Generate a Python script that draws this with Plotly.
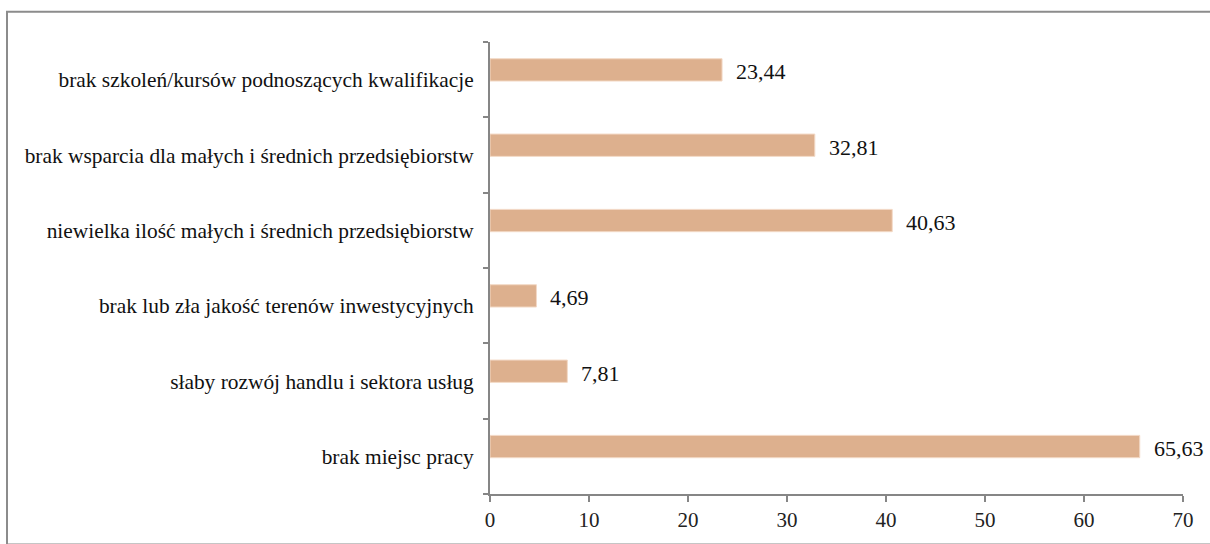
import plotly.graph_objects as go

categories = [
    "brak miejsc pracy",
    "słaby rozwój handlu i sektora usług",
    "brak lub zła jakość terenów inwestycyjnych",
    "niewielka ilość małych i średnich przedsiębiorstw",
    "brak wsparcia dla małych i średnich przedsiębiorstw",
    "brak szkoleń/kursów podnoszących kwalifikacje",
]
values = [65.63, 7.81, 4.69, 40.63, 32.81, 23.44]
x_ticks = [0, 10, 20, 30, 40, 50, 60, 70]

FONT = "Liberation Serif"
AXIS = "#868686"
BAR = "#DDB08E"

W, H = 1210, 544
L, R, T, B = 490, 27, 42, 46
pw, ph = W - L - R, H - T - B

bar_w = 0.296
bar_off = -0.018

fig = go.Figure()
fig.add_trace(go.Bar(
    x=values, y=categories, orientation="h",
    marker=dict(color=BAR, line=dict(color="#F3D9C6", width=1)),
    width=bar_w, offset=bar_off,
    hoverinfo="skip",
))

for v, c in zip(values, categories):
    fig.add_annotation(
        x=v, y=c, xref="x", yref="y",
        text=f"{v:.2f}".replace(".", ","),
        showarrow=False, xanchor="left", yanchor="middle",
        xshift=12, yshift=8,
        font=dict(family=FONT, size=22, color="#111111"),
    )

# outer chart border
fig.add_shape(
    type="rect", xref="paper", yref="paper",
    x0=(7 - L) / pw, x1=(W + 5 - L) / pw,
    y0=-(H + 5 - (T + ph)) / ph, y1=1 + (T - 11.5) / ph,
    line=dict(color="#8C8C8C", width=2), fillcolor="rgba(0,0,0,0)",
    layer="below",
)

fig.update_layout(
    width=W, height=H,
    margin=dict(l=L, r=R, t=T, b=B),
    paper_bgcolor="white", plot_bgcolor="white",
    showlegend=False,
    font=dict(family=FONT, size=21, color="#111111"),
    xaxis=dict(
        range=[0, 70], tickvals=x_ticks, ticktext=[str(t) for t in x_ticks],
        showgrid=False, zeroline=False,
        showline=True, linecolor=AXIS, linewidth=2,
        ticks="outside", ticklen=6, tickwidth=2, tickcolor=AXIS,
        tickfont=dict(family=FONT, size=21, color="#222222"),
        fixedrange=True,
    ),
    yaxis=dict(
        type="category", categoryorder="array", categoryarray=categories,
        range=[-0.5, 5.5],
        showgrid=False, zeroline=False,
        showline=True, linecolor=AXIS, linewidth=2,
        ticks="outside", ticklen=5, tickwidth=2, tickcolor=AXIS,
        tickson="boundaries",
        ticklabelstandoff=10,
        tickfont=dict(family=FONT, size=21.4, color="#111111"),
        fixedrange=True,
    ),
)

fig.write_html(
    "out.html",
    config={"displayModeBar": False},
    post_script="document.body.style.margin='0';document.body.style.overflow='hidden';",
)
